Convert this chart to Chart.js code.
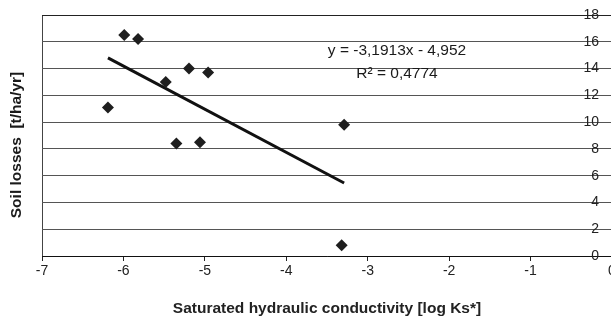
<!DOCTYPE html>
<html>
<head>
<meta charset="utf-8">
<script src="https://cdn.jsdelivr.net/npm/chart.js@4.4.1/dist/chart.umd.min.js"></script>
<style>
    html, body { margin: 0; padding: 0; background: #fff; overflow: hidden; }
    #wrap { position: relative; width: 640px; height: 316px; }
</style>
</head>
<body>
<div id="wrap"><canvas id="soil-chart"></canvas></div>
<script>
// measured points: log Ks vs soil losses
const logKs = [-6.19, -5.99, -5.82, -5.48, -5.35, -5.195, -5.06, -4.96, -3.29, -3.32];
const soilLoss = [11.1, 16.5, 16.2, 13.0, 8.4, 14.0, 8.5, 13.7, 9.8, 0.8];

// linear trend line ends
const trendX = [-6.19, -3.29];
const trendY = [14.8, 5.45];

const xTicks = [-7, -6, -5, -4, -3, -2, -1, 0];
const yTicks = [0, 2, 4, 6, 8, 10, 12, 14, 16, 18];

const equationText = 'y = -3,1913x - 4,952';
const r2Text = 'R\u00B2 = 0,4774';
const yTitle = 'Soil losses  [t/ha/yr]';
const xTitle = 'Saturated hydraulic conductivity [log Ks*]';

const FONT = '"Liberation Sans", Arial, sans-serif';

const extraText = {
    id: 'extraText',
    afterDraw(chart) {
        const ctx = chart.ctx;
        ctx.save();
        ctx.fillStyle = '#1a1a1a';
        ctx.textAlign = 'center';
        ctx.textBaseline = 'middle';
        ctx.font = '15.5px ' + FONT;
        ctx.fillText(equationText, 397, 51);
        ctx.fillText(r2Text, 397, 74);

        // y axis title sits on the left while the axis itself is on the right
        ctx.font = 'bold 15.5px ' + FONT;
        ctx.translate(17, 145);
        ctx.rotate(-Math.PI / 2);
        ctx.fillText(yTitle, 0, 0);
        ctx.restore();
    }
};

const ctx = document.getElementById('soil-chart').getContext('2d');
new Chart(ctx, {
    type: 'scatter',
    data: {
        datasets: [{
            label: 'Soil losses',
            data: logKs.map((x, i) => ({ x: x, y: soilLoss[i] })),
            pointStyle: 'rectRot',
            pointRadius: 6,
            pointHoverRadius: 6,
            backgroundColor: '#1e1e1e',
            borderColor: '#1e1e1e',
            borderWidth: 0,
            order: 1
        }, {
            label: 'Trend',
            type: 'line',
            data: trendX.map((x, i) => ({ x: x, y: trendY[i] })),
            borderColor: '#111',
            borderWidth: 3,
            pointRadius: 0,
            fill: false,
            order: 2
        }]
    },
    options: {
        responsive: true,
        maintainAspectRatio: false,
        animation: false,
        layout: {
            padding: { left: 42, right: 28, top: 15, bottom: 0 }
        },
        plugins: {
            legend: { display: false },
            tooltip: { enabled: false }
        },
        scales: {
            x: {
                type: 'linear',
                min: -7,
                max: 0,
                afterBuildTicks: (scale) => { scale.ticks = xTicks.map(v => ({ value: v })); },
                grid: {
                    drawOnChartArea: true,
                    drawTicks: true,
                    tickLength: 5,
                    color: (c) => c.tick && c.tick.value === -7 ? '#444' : 'rgba(0,0,0,0)',
                    tickColor: '#222',
                    lineWidth: 1
                },
                border: { display: true, color: '#111', width: 1 },
                ticks: {
                    padding: 2,
                    color: '#222',
                    font: { family: FONT, size: 14 },
                    callback: (v) => String(v)
                },
                title: {
                    display: true,
                    text: xTitle,
                    color: '#222',
                    font: { family: FONT, size: 15.5, weight: 'bold', lineHeight: 1 },
                    padding: { top: 18.7, bottom: 0 }
                }
            },
            y: {
                type: 'linear',
                position: 'right',
                min: 0,
                max: 18,
                afterBuildTicks: (scale) => { scale.ticks = yTicks.map(v => ({ value: v })); },
                afterFit: (scale) => { scale.width = 0; },
                grid: {
                    drawTicks: false,
                    color: (c) => c.tick && c.tick.value === 18 ? '#222' : '#555',
                    lineWidth: 1
                },
                border: { display: false },
                ticks: {
                    mirror: true,
                    padding: -13,
                    color: '#222',
                    font: { family: FONT, size: 14 }
                }
            }
        }
    },
    plugins: [extraText]
});
</script>
</body>
</html>
